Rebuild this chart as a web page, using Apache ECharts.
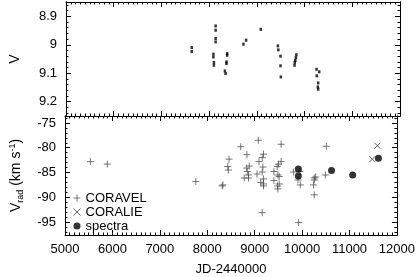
<!DOCTYPE html>
<html><head><meta charset="utf-8">
<script src="https://cdn.jsdelivr.net/npm/echarts@6/dist/echarts.min.js"></script>
<style>html,body{margin:0;padding:0;background:#fff}#c{width:418px;height:277px}</style>
</head><body><div id="c"></div>
<script>
// Photometry (top panel)
const jdPhot = [7635,7635,8089,8089,8100,8100,8136,8136,8136,8136,8330,8345,8377,8377,8364,8364,8720,8775,9083,9441,9450,9495,9495,9503,9828,9818,9805,9795,9790,10250,10306,10255,10285,10278,10285];
const vPhot  = [9.010,9.024,9.033,9.043,9.062,9.072,8.934,8.949,8.978,8.990,9.092,9.101,9.031,9.037,9.060,9.066,8.998,8.984,8.946,9.004,9.018,9.040,9.074,9.113,9.035,9.045,9.055,9.062,9.072,9.086,9.095,9.109,9.134,9.148,9.156];
// Radial velocities (bottom panel)
const jdCoravel = [5535,5892,7759,8315,8330,8432,8459,8445,8706,8836,8885,8830,8845,8870,8780,8870,9077,9186,9160,9091,9173,9160,9050,9186,9130,9186,9186,9159,9557,9557,9503,9475,9406,9489,9517,9406,9517,9482,9489,9818,9955,9914,9962,9927,10257,10286,10257,10240,10257,10491,10512];
const vrCoravel = [-82.8,-83.3,-86.8,-87.7,-87.5,-83.8,-82.3,-84.5,-79.8,-81.4,-83.7,-84.1,-84.8,-85.5,-86.1,-86.1,-78.5,-81.3,-82.0,-82.8,-83.9,-84.9,-85.3,-86.3,-87.0,-87.3,-87.7,-93.1,-79.3,-82.8,-83.3,-83.8,-84.8,-85.5,-85.8,-86.6,-87.3,-87.7,-88.3,-84.9,-84.8,-86.5,-87.5,-95.1,-86.1,-85.9,-86.5,-87.5,-89.5,-85.5,-79.7];
const jdCoralie = [11589,11480];
const vrCoralie = [-79.6,-82.3];
const jdSpectra = [9921,9921,10621,11067,11609];
const vrSpectra = [-84.3,-85.7,-84.6,-85.5,-82.1];
// Tick labels
const xTicks = [5000,6000,7000,8000,9000,10000,11000,12000];
const vTicks = [8.9,9.0,9.1,9.2];
const vrTicks = [-95,-90,-85,-80,-75];

const zip = (a,b)=>a.map((v,i)=>[v,b[i]]);
const minorV = []; for(let k=0;k<=20;k++){const v=+(8.86+k*0.02).toFixed(2); if(v<9.25 && !vTicks.some(t=>Math.abs(t-v)<1e-6)) minorV.push(v);}
const minorVr = []; for(let v=-97;v<=-74;v++){ if(!vrTicks.includes(v)) minorVr.push(v);}

const F = 'Liberation Sans, Arial, sans-serif';
const black = '#000';
function xAx(grid,pos,labels){
  return {gridIndex:grid,type:'value',min:xTicks[0],max:xTicks[xTicks.length-1],interval:1000,position:pos,
    axisLine:{onZero:false,lineStyle:{color:black,width:1}},
    axisTick:{inside:true,length:5,lineStyle:{color:black}},
    minorTick:{show:true,splitNumber:10,length:2.5,lineStyle:{color:black}},
    splitLine:{show:false},
    axisLabel:{show:labels,margin:8,fontFamily:F,fontSize:13,color:black,formatter:v=>String(v)},
    name:labels?'JD-2440000':'',nameLocation:'middle',nameGap:28,
    nameTextStyle:{fontFamily:F,fontSize:13,color:black}};
}
function yAx(grid,pos,min,max,inv,vals,len,labels,name,nameGap){
  return {gridIndex:grid,type:'value',min:min,max:max,inverse:inv,position:pos,
    axisLine:{onZero:false,show:true,lineStyle:{color:black,width:1}},
    axisTick:{inside:true,length:len,customValues:vals,lineStyle:{color:black}},
    splitLine:{show:false},
    axisLabel:{show:labels,customValues:vals,margin:9,fontFamily:F,fontSize:13,color:black},
    name:name||'',nameLocation:'middle',nameGap:nameGap||0,nameRotate:90,
    nameTextStyle:{fontFamily:F,fontSize:14,color:black,
      rich:{sub:{fontSize:9,fontFamily:F,color:black,padding:[9,0,0,0]},
            sup:{fontSize:9,fontFamily:F,color:black,padding:[0,0,7,0]}}}};
}
const chart = echarts.init(document.getElementById('c'),null,{renderer:'canvas'});
const plusPath = 'path://M0,5L10,5M5,0L5,10';
const crossPath = 'path://M0,0L10,10M10,0L0,10';
chart.setOption({
  animation:false,
  backgroundColor:'#fff',
  grid:[{left:60,right:18,top:2,height:114},{left:60,right:18,top:116,height:120}],
  xAxis:[xAx(0,'bottom',false),xAx(0,'top',false),xAx(1,'bottom',true),xAx(1,'top',false)],
  yAxis:[
    yAx(0,'left',8.85,9.25,true,vTicks,5,true,'V',44),
    yAx(0,'left',8.85,9.25,true,minorV,2.5,false),
    yAx(0,'right',8.85,9.25,true,vTicks,5,false),
    yAx(0,'right',8.85,9.25,true,minorV,2.5,false),
    yAx(1,'left',-97.6,-73.6,false,vrTicks,5,true,'V{sub|rad} (km s{sup|-1})',40),
    yAx(1,'left',-97.6,-73.6,false,minorVr,2.5,false),
    yAx(1,'right',-97.6,-73.6,false,vrTicks,5,false),
    yAx(1,'right',-97.6,-73.6,false,minorVr,2.5,false)
  ],
  legend:{orient:'vertical',left:66,top:186,itemGap:0,itemWidth:7,itemHeight:7,
    itemStyle:{borderWidth:1},
    textStyle:{fontFamily:F,fontSize:13,color:black,lineHeight:14},
    data:['CORAVEL','CORALIE','spectra']},
  series:[
    {type:'scatter',xAxisIndex:0,yAxisIndex:0,symbol:'rect',symbolSize:[2.5,3],itemStyle:{color:black},data:zip(jdPhot,vPhot)},
    {name:'CORAVEL',type:'scatter',xAxisIndex:2,yAxisIndex:4,symbol:plusPath,symbolSize:7,
      itemStyle:{color:'none',borderColor:'#555',borderWidth:1},data:zip(jdCoravel,vrCoravel)},
    {name:'CORALIE',type:'scatter',xAxisIndex:2,yAxisIndex:4,symbol:crossPath,symbolSize:6,
      itemStyle:{color:'none',borderColor:'#444',borderWidth:1},data:zip(jdCoralie,vrCoralie)},
    {name:'spectra',type:'scatter',xAxisIndex:2,yAxisIndex:4,symbol:'circle',symbolSize:7,
      itemStyle:{color:black},data:zip(jdSpectra,vrSpectra)}
  ]
});
</script></body></html>
